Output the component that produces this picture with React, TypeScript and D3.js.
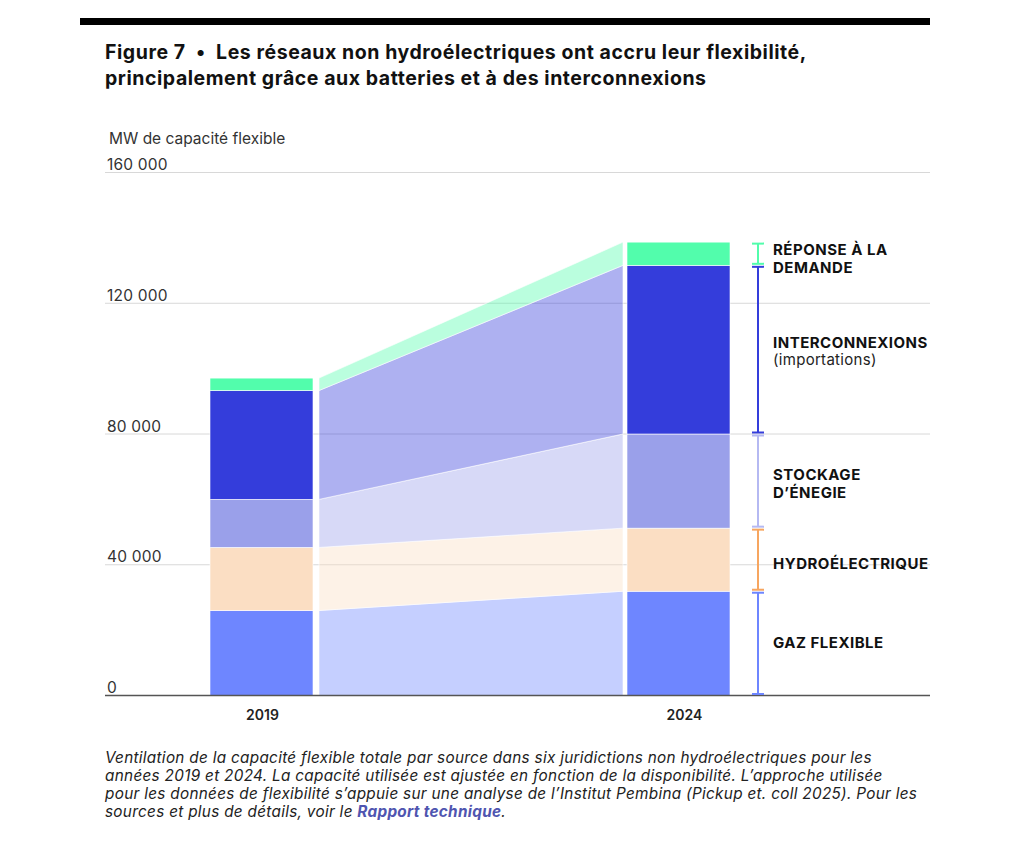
import React from "react";
import * as d3 from "d3";

// Flexible capacity by source (MW), non-hydro grids, 2019 vs 2024
const years = ["2019", "2024"];
const gazFlexible = [26000, 31900];
const hydroelectrique = [19300, 19300];
const stockage = [14700, 28800];
const interconnexions = [33300, 51600];
const reponseDemande = [3800, 7100];
const yTicks = [0, 40000, 80000, 120000, 160000];

const seriesKeys = ["gaz", "hydro", "stockage", "inter", "demande"];
const barColors: Record<string, string> = {
  gaz: "#6e86ff",
  hydro: "#fbdec3",
  stockage: "#9aa0ea",
  inter: "#343ddb",
  demande: "#52fdac",
};
const bracketColors: Record<string, string> = {
  gaz: "#6e86ff",
  hydro: "#f7a660",
  stockage: "#b5b9f2",
  inter: "#343ddb",
  demande: "#52fdac",
};
const legendLabels: Record<string, { bold: string[]; light?: string; dy: number }> = {
  demande: { bold: ["RÉPONSE À LA", "DEMANDE"], dy: 5 },
  inter: { bold: ["INTERCONNEXIONS"], light: "(importations)", dy: 2 },
  stockage: { bold: ["STOCKAGE", "D’ÉNEGIE"], dy: 3 },
  hydro: { bold: ["HYDROÉLECTRIQUE"], dy: 4 },
  gaz: { bold: ["GAZ FLEXIBLE"], dy: 0 },
};

const FONT = "Inter, 'Open Sans', sans-serif";

export default function App() {
  const rows = years.map((yr, i) => ({
    year: yr,
    gaz: gazFlexible[i],
    hydro: hydroelectrique[i],
    stockage: stockage[i],
    inter: interconnexions[i],
    demande: reponseDemande[i],
  }));
  const stacked = d3.stack<any>().keys(seriesKeys)(rows);

  const y = d3.scaleLinear().domain([0, 160000]).range([695.5, 172.5]);
  const x = d3.scaleBand().domain(years).range([210, 730]).paddingInner(0.753).paddingOuter(0);
  const bw = x.bandwidth();
  const fmt = (v: number) => d3.format(",")(v).replace(/,/g, " ");

  const flowX0 = (x("2019") as number) + bw + 6;
  const flowX1 = (x("2024") as number) - 4;
  const bracketX = 758;
  const labelX = 773;

  const last = stacked.map((s) => ({ key: s.key, y0: s[1][0], y1: s[1][1] }));

  return (
    <svg
      width={1024}
      height={846}
      style={{ display: "block", position: "absolute", left: 0, top: 0, fontFamily: FONT }}
    >
      <rect x={80} y={18} width={850} height={7} fill="#000" />
      <g fontSize={19.5} fontWeight={700} fill="#111" letterSpacing={0.55}>
        <text x={105} y={59} style={{ whiteSpace: "pre" }}>
          {"Figure 7  •  Les réseaux non hydroélectriques ont accru leur flexibilité,"}
        </text>
        <text x={105} y={85}>principalement grâce aux batteries et à des interconnexions</text>
      </g>

      <text x={109} y={144} fontSize={15.5} fill="#333">MW de capacité flexible</text>

      {yTicks.map((t) => (
        <g key={t}>
          {t > 0 && <line x1={105} x2={930} y1={y(t)} y2={y(t)} stroke="#d8d8d8" strokeWidth={1} />}
          <text x={107} y={y(t) - 2.5} fontSize={15.5} letterSpacing={0.2} fill="#333">{fmt(t)}</text>
        </g>
      ))}

      {/* connecting flows between the two years */}
      {stacked.map((s) => {
        const area = d3
          .area<[number, number]>()
          .x((_, i) => (i === 0 ? flowX0 : flowX1))
          .y0((d) => y(d[0]))
          .y1((d) => y(d[1]));
        const pts: [number, number][] = [
          [s[0][0], s[0][1]],
          [s[1][0], s[1][1]],
        ];
        return (
          <path key={s.key} d={area(pts) || ""} fill={barColors[s.key]} fillOpacity={0.4} stroke="#fff" strokeWidth={0.6} />
        );
      })}

      {/* stacked bars */}
      {stacked.map((s) =>
        s.map((d, i) => (
          <rect
            key={s.key + i}
            x={x(years[i]) as number}
            y={y(d[1])}
            width={bw}
            height={y(d[0]) - y(d[1])}
            fill={barColors[s.key]}
            stroke="#fff"
            strokeWidth={0.6}
          />
        ))
      )}

      <line x1={105} x2={930} y1={695.5} y2={695.5} stroke="#555" strokeWidth={1.5} />

      {years.map((yr, i) => (
        <text key={yr} x={(x(yr) as number) + bw / 2 + (i === 1 ? 6 : 1)} y={720} fontSize={14} fontWeight={600} fill="#222" textAnchor="middle">
          {yr}
        </text>
      ))}

      {/* bracket legend beside the 2024 bar */}
      {last.map((seg) => {
        const top = y(seg.y1) + 1.5;
        const bot = y(seg.y0) - 1.5;
        const c = bracketColors[seg.key];
        const lab = legendLabels[seg.key];
        const mid = (top + bot) / 2;
        const nLines = lab.bold.length + (lab.light ? 1 : 0);
        const startY = mid - ((nLines - 1) * 18) / 2 + 5 + lab.dy;
        return (
          <g key={seg.key}>
            <line x1={bracketX} x2={bracketX} y1={top} y2={bot} stroke={c} strokeWidth={2} />
            <line x1={bracketX - 6} x2={bracketX + 6} y1={top} y2={top} stroke={c} strokeWidth={2} />
            <line x1={bracketX - 6} x2={bracketX + 6} y1={bot} y2={bot} stroke={c} strokeWidth={2} />
            {lab.bold.map((t, k) => (
              <text key={t} x={labelX} y={startY + k * 18} fontSize={15} letterSpacing={0.5} fontWeight={700} fill="#111">{t}</text>
            ))}
            {lab.light && (
              <text x={labelX} y={startY + lab.bold.length * 17} fontSize={15} letterSpacing={0.3} fill="#222">{lab.light}</text>
            )}
          </g>
        );
      })}

      <g fontSize={15.3} fontStyle="italic" fill="#222" letterSpacing={0.3}>
        <text x={105} y={763}>Ventilation de la capacité flexible totale par source dans six juridictions non hydroélectriques pour les</text>
        <text x={105} y={781}>années 2019 et 2024. La capacité utilisée est ajustée en fonction de la disponibilité. L’approche utilisée</text>
        <text x={105} y={799}>pour les données de flexibilité s’appuie sur une analyse de l’Institut Pembina (Pickup et. coll 2025). Pour les</text>
        <text x={105} y={817}>
          sources et plus de détails, voir le <tspan fontWeight={700} fill="#4f55b0">Rapport technique</tspan>.
        </text>
      </g>
    </svg>
  );
}
